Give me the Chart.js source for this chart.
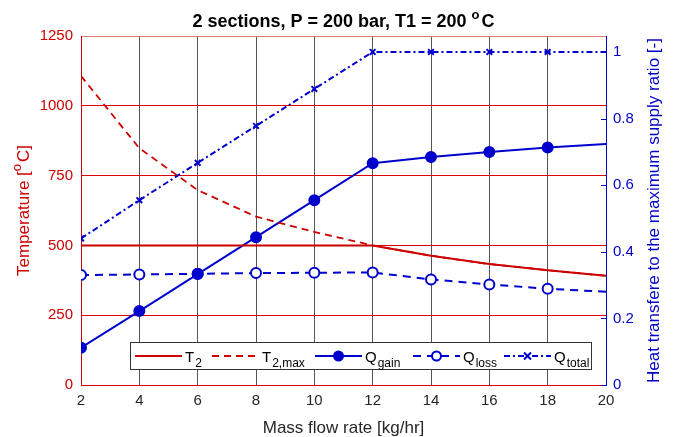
<!DOCTYPE html>
<html>
<head>
<meta charset="utf-8">
<script src="https://cdn.jsdelivr.net/npm/chart.js@4/dist/chart.umd.min.js"></script>
<style>
  body { margin: 0; background: #fff; }
  #chart { display: block; }
</style>
</head>
<body>
<canvas id="chart" width="673" height="437"></canvas>
<script>
// data
const massFlow = [2, 4, 6, 8, 10, 12, 14, 16, 18, 20];
const t2 = [500, 500, 500, 500, 500, 500, 463, 433, 411, 391];
const t2max = [1107, 848, 698, 603, 548, 500, 463, 433, 411, 391];
const qGain = [0.112, 0.222, 0.333, 0.444, 0.555, 0.666, 0.685, 0.700, 0.713, 0.724];
const qLoss = [0.330, 0.332, 0.334, 0.336, 0.337, 0.338, 0.317, 0.302, 0.289, 0.280];
const qTotal = [0.44, 0.555, 0.667, 0.778, 0.889, 1, 1, 1, 1, 1];
const tempTicks = [0, 250, 500, 750, 1000, 1250];
const ratioTicks = [0, 0.2, 0.4, 0.6, 0.8, 1];

const RED = "rgb(204,0,0)";
const BLUE = "rgb(0,0,204)";
const FONT = "'Liberation Sans', Arial, sans-serif";

// no marker drawn on the last sample
const markerRadius = r => massFlow.map((x, i) => i === massFlow.length - 1 ? 0 : r);

function pts(ys) {
    return massFlow.map((x, i) => ({ x: x, y: ys[i] }));
}

// text with subscript / superscript part, returns x where it ended
function drawScript(ctx, x, y, main, small, size, up) {
    ctx.font = size + "px " + FONT;
    ctx.fillText(main, x, y);
    x += ctx.measureText(main).width;
    ctx.font = Math.round(size * 0.78) + "px " + FONT;
    ctx.fillText(small, x + 1, up ? y - size * 0.45 : y + size * 0.38);
    return x + 1 + ctx.measureText(small).width;
}

const extras = {
    id: "extras",
    afterDraw(chart) {
        const ctx = chart.ctx;
        const area = chart.chartArea;
        const y1 = chart.scales.y1;
        ctx.save();

        // right axis inward ticks
        ctx.strokeStyle = BLUE;
        ctx.lineWidth = 1;
        ratioTicks.forEach(v => {
            const py = Math.round(y1.getPixelForValue(v)) + 0.5;
            ctx.beginPath();
            ctx.moveTo(area.right - 5, py);
            ctx.lineTo(area.right, py);
            ctx.stroke();
        });

        // title
        ctx.fillStyle = "#000";
        ctx.textBaseline = "alphabetic";
        ctx.font = "bold 18px " + FONT;
        const t1 = "2 sections, P = 200 bar, T1 = 200 ";
        const w1 = ctx.measureText(t1).width;
        ctx.font = "bold 13px " + FONT;
        const w2 = ctx.measureText("o").width;
        ctx.font = "bold 18px " + FONT;
        const w3 = ctx.measureText("C").width;
        let tx = (area.left + area.right) / 2 - (w1 + w2 + 2 + w3) / 2;
        ctx.fillText(t1, tx, 27);
        ctx.font = "bold 13px " + FONT;
        ctx.fillText("o", tx + w1, 19);
        ctx.font = "bold 18px " + FONT;
        ctx.fillText("C", tx + w1 + w2 + 2, 27);

        // x label
        ctx.fillStyle = "#262626";
        ctx.font = "17px " + FONT;
        ctx.textAlign = "center";
        ctx.fillText("Mass flow rate [kg/hr]", (area.left + area.right) / 2, 433);
        ctx.textAlign = "left";

        // left label
        const midY = (area.top + area.bottom) / 2;
        ctx.save();
        ctx.translate(29, midY);
        ctx.rotate(-Math.PI / 2);
        ctx.fillStyle = RED;
        ctx.font = "17px " + FONT;
        const a = "Temperature [";
        const aw = ctx.measureText(a).width;
        ctx.font = "13px " + FONT;
        const ow = ctx.measureText("o").width;
        ctx.font = "17px " + FONT;
        const cw = ctx.measureText("C]").width;
        let lx = -(aw + ow + 2 + cw) / 2;
        ctx.fillText(a, lx, 0);
        ctx.font = "13px " + FONT;
        ctx.fillText("o", lx + aw, -8);
        ctx.font = "17px " + FONT;
        ctx.fillText("C]", lx + aw + ow + 2, 0);
        ctx.restore();

        // right label
        ctx.save();
        ctx.translate(659, midY);
        ctx.rotate(-Math.PI / 2);
        ctx.fillStyle = BLUE;
        ctx.font = "17px " + FONT;
        ctx.textAlign = "center";
        ctx.fillText("Heat transfere to the maximum supply ratio [-]", 0, 0);
        ctx.restore();

        // legend
        const bx = 130.5, by = 342.5, bw = 461, bh = 27;
        ctx.fillStyle = "#fff";
        ctx.fillRect(bx, by, bw, bh);
        ctx.strokeStyle = "#333";
        ctx.lineWidth = 1;
        ctx.strokeRect(bx, by, bw, bh);

        const ly = 356;
        const items = [
            { x0: 135, main: "T", sub: "2", color: RED, dash: [], marker: null },
            { x0: 212, main: "T", sub: "2,max", color: RED, dash: [7, 5], marker: null },
            { x0: 315, main: "Q", sub: "gain", color: BLUE, dash: [], marker: "fill" },
            { x0: 413, main: "Q", sub: "loss", color: BLUE, dash: [8, 6], marker: "open" },
            { x0: 504, main: "Q", sub: "total", color: BLUE, dash: [6, 3, 2, 3], marker: "cross" }
        ];
        items.forEach(it => {
            ctx.strokeStyle = it.color;
            ctx.lineWidth = 2;
            ctx.setLineDash(it.dash);
            ctx.beginPath();
            ctx.moveTo(it.x0, ly);
            ctx.lineTo(it.x0 + 47, ly);
            ctx.stroke();
            ctx.setLineDash([]);
            const mx = it.x0 + 23.5;
            if (it.marker === "fill" || it.marker === "open") {
                ctx.beginPath();
                ctx.arc(mx, ly, 4.5, 0, Math.PI * 2);
                ctx.fillStyle = it.marker === "fill" ? BLUE : "#fff";
                ctx.fill();
                ctx.stroke();
            } else if (it.marker === "cross") {
                ctx.beginPath();
                ctx.moveTo(mx - 3.5, ly - 3.5);
                ctx.lineTo(mx + 3.5, ly + 3.5);
                ctx.moveTo(mx + 3.5, ly - 3.5);
                ctx.lineTo(mx - 3.5, ly + 3.5);
                ctx.stroke();
            }
            ctx.fillStyle = "#000";
            ctx.textBaseline = "alphabetic";
            drawScript(ctx, it.x0 + 50, ly + 5.5, it.main, it.sub, 15, false);
        });

        ctx.restore();
    }
};

new Chart(document.getElementById("chart"), {
    type: "line",
    data: {
        datasets: [
            {
                label: "T2", data: pts(t2), yAxisID: "y",
                borderColor: RED, borderWidth: 2, pointRadius: 0
            },
            {
                label: "T2,max", data: pts(t2max), yAxisID: "y",
                borderColor: RED, borderWidth: 1.8, borderDash: [7, 5], pointRadius: 0
            },
            {
                label: "Qgain", data: pts(qGain), yAxisID: "y1",
                borderColor: BLUE, borderWidth: 2,
                pointRadius: markerRadius(5), pointBackgroundColor: BLUE, pointBorderColor: BLUE
            },
            {
                label: "Qloss", data: pts(qLoss), yAxisID: "y1",
                borderColor: BLUE, borderWidth: 2, borderDash: [8, 6],
                pointRadius: markerRadius(5), pointBackgroundColor: "#fff",
                pointBorderColor: BLUE, pointBorderWidth: 2
            },
            {
                label: "Qtotal", data: pts(qTotal), yAxisID: "y1",
                borderColor: BLUE, borderWidth: 2, borderDash: [6, 3, 2, 3],
                pointStyle: "crossRot", pointRadius: markerRadius(4),
                pointBorderColor: BLUE, pointBorderWidth: 2
            }
        ]
    },
    options: {
        responsive: false,
        animation: false,
        layout: { padding: { top: 36, left: 0, right: 0, bottom: 0 } },
        plugins: {
            legend: { display: false },
            title: { display: false },
            tooltip: { enabled: false }
        },
        scales: {
            x: {
                type: "linear", min: 2, max: 20,
                afterFit: s => { s.height = 52; },
                ticks: { stepSize: 2, color: "#262626", padding: 7, font: { family: FONT, size: 15 } },
                grid: {
                    drawTicks: false,
                    color: c => (c.tick.value === 2 || c.tick.value === 20) ? "rgba(0,0,0,0)" : "#555",
                    lineWidth: 1
                },
                border: { display: false }
            },
            y: {
                position: "left", min: 0, max: 1250,
                afterFit: s => { s.width = 81; },
                afterBuildTicks: s => { s.ticks = tempTicks.map(v => ({ value: v })); },
                ticks: {
                    color: RED, padding: 8, font: { family: FONT, size: 15 },
                    callback: v => String(v)
                },
                grid: {
                    drawTicks: false,
                    color: c => c.tick.value === 1250 ? "rgb(228,120,120)" : "rgb(225,0,0)",
                    lineWidth: 1
                },
                border: { color: RED, width: 1 }
            },
            y1: {
                position: "right", min: 0, max: 1.048,
                afterFit: s => { s.width = 67; },
                afterBuildTicks: s => { s.ticks = ratioTicks.map(v => ({ value: v })); },
                ticks: {
                    color: BLUE, padding: 7, font: { family: FONT, size: 15 },
                    callback: v => String(v)
                },
                grid: { display: false, drawTicks: false },
                border: { color: BLUE, width: 1 }
            }
        }
    },
    plugins: [extras]
});
</script>
</body>
</html>
